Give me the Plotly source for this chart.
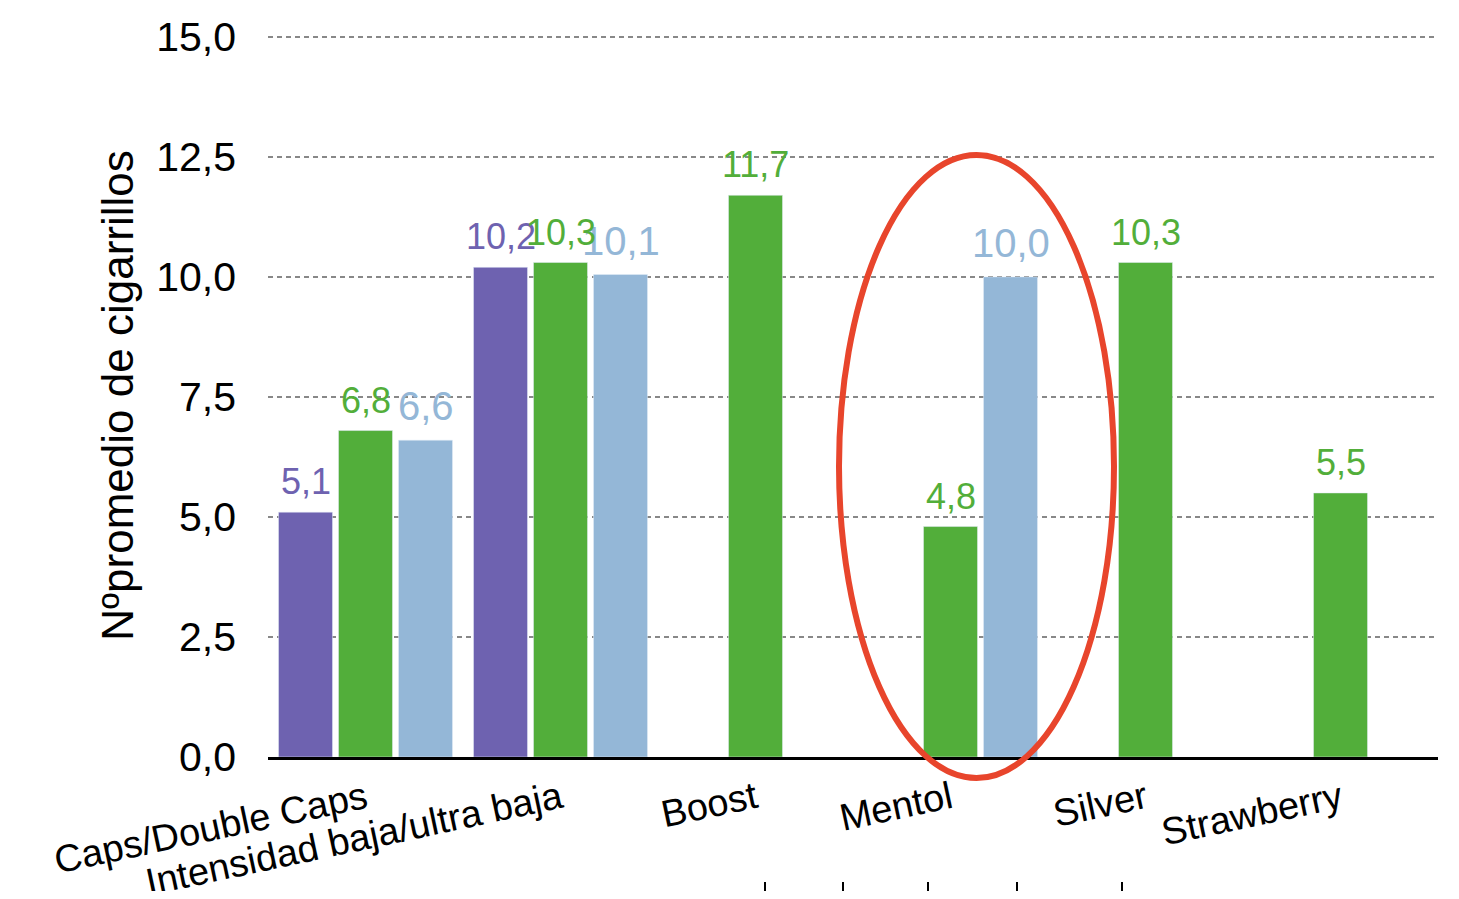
import plotly.graph_objects as go

categories = ["Caps/Double Caps", "Intensidad baja/ultra baja", "Boost", "Mentol", "Silver", "Strawberry"]
serie_morada = [5.1, 10.2, None, None, None, None]
serie_verde = [6.8, 10.3, 11.7, 4.8, 10.3, 5.5]
serie_azul = [6.6, 10.05, None, 10.0, None, None]
labels_morada = ["5,1", "10,2", "", "", "", ""]
labels_verde = ["6,8", "10,3", "11,7", "4,8", "10,3", "5,5"]
labels_azul = ["6,6", "10,1", "", "10,0", "", ""]
y_ticks = [0, 2.5, 5, 7.5, 10, 12.5, 15]

PURPLE = "#6E62B0"
GREEN = "#52AE3A"
BLUE = "#94B7D7"
RED = "#E8452C"
FONT = "Liberation Sans"
BARGAP = 0.077

# page geometry (body has 8px margin)
W, H = 1443, 883
ML, MR, MT, MB = 260, 13, 26, 134
PLOT_W = W - ML - MR
PLOT_H = H - MT - MB
X0_PAGE, Y0_PAGE = 8 + ML, 8 + MT + PLOT_H  # page px of plot left / bottom


def px_to_paper_x(px):
    return (px - X0_PAGE) / PLOT_W


def py_to_paper_y(py):
    return (Y0_PAGE - py) / PLOT_H


fig = go.Figure()
series = [(serie_morada, labels_morada, PURPLE, 36, 8),
          (serie_verde, labels_verde, GREEN, 36, 8),
          (serie_azul, labels_azul, BLUE, 40, 10)]
for vals, _, col, _, _ in series:
    fig.add_trace(go.Bar(x=categories, y=vals, marker_color=col, hoverinfo="y"))

# value labels above bars (blue drawn below green, as in the original)
slot = (1 - BARGAP) / len(series)
annotations = []
for k in [0, 2, 1]:
    vals, labs, col, fsize, shift = series[k]
    for i, (v, lab) in enumerate(zip(vals, labs)):
        if v is None or not lab:
            continue
        annotations.append(dict(
            x=i + (k - 1) * slot, y=v, xref="x", yref="y", text=lab,
            showarrow=False, yanchor="bottom", xanchor="center", yshift=shift,
            font=dict(color=col, size=fsize, family=FONT)))

fig.update_layout(
    width=W, height=H,
    margin=dict(l=ML, r=MR, t=MT, b=MB, autoexpand=False),
    paper_bgcolor="white", plot_bgcolor="white",
    barmode="group", bargap=BARGAP, bargroupgap=0.1,
    showlegend=False,
    separators=",.",
    font=dict(family=FONT, color="black"),
    annotations=annotations,
)
fig.update_xaxes(
    type="category", showgrid=False, showline=True, linecolor="black", linewidth=3,
    tickangle=-12, tickfont=dict(size=38, family=FONT, color="black"),
    ticks="", ticklabelstandoff=2, automargin=False,
)
fig.update_yaxes(
    range=[0, 15.06], tickvals=y_ticks, tickformat=".1f",
    showgrid=True, gridcolor="#888888", gridwidth=2, griddash="5px,4px",
    zeroline=False, showline=False, ticks="", automargin=False,
    tickfont=dict(size=41, family=FONT, color="black"), ticklabelstandoff=31,
    title=dict(text="Nºpromedio de cigarrillos", font=dict(size=44, family=FONT, color="black"),
               standoff=8),
)

# red hand-drawn ellipse around "Mentol"
fig.add_shape(type="circle", xref="paper", yref="paper",
              x0=px_to_paper_x(839), x1=px_to_paper_x(1114),
              y0=py_to_paper_y(778), y1=py_to_paper_y(155),
              line=dict(color=RED, width=6), layer="above")

# small stray ticks at the bottom of the image
for px in [765, 843, 928, 1017, 1122]:
    xp = px_to_paper_x(px)
    fig.add_shape(type="line", xref="paper", yref="paper", x0=xp, x1=xp,
                  y0=py_to_paper_y(882), y1=py_to_paper_y(891),
                  line=dict(color="black", width=2))

fig.write_html("out.html")
